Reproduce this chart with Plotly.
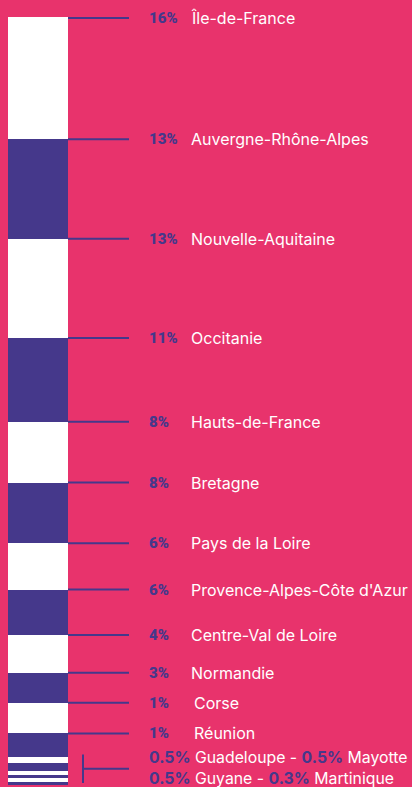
import plotly.graph_objects as go

# ---- data ----
regions = ["Île-de-France", "Auvergne-Rhône-Alpes", "Nouvelle-Aquitaine", "Occitanie",
           "Hauts-de-France", "Bretagne", "Pays de la Loire", "Provence-Alpes-Côte d'Azur",
           "Centre-Val de Loire", "Normandie", "Corse", "Réunion",
           "Guadeloupe", "Mayotte", "Guyane", "Martinique", "", ""]
pct_labels = ["16%", "13%", "13%", "11%", "8%", "8%", "6%", "6%", "4%", "3%", "1%", "1%",
              "0.5%", "0.5%", "0.5%", "0.3%", "", ""]
# segment sizes as drawn in the bar (share of the bar)
bar_share = [15.9, 12.9, 12.9, 10.9, 7.9, 7.9, 6.0, 5.9, 4.9, 3.9, 4.0, 3.0,
             0.9, 1.0, 0.5, 0.4, 0.5, 0.4]

PINK = "#E8336C"
PURPLE = "#45388B"
WHITE = "#FFFFFF"

W, H = 412, 787
BAR_LEFT, BAR_W = 8, 60
TOP_PX, BOT_PX = 17, 785
total = sum(bar_share)
ppu = (BOT_PX - TOP_PX) / total  # px per unit

fig = go.Figure()
starts = []
acc = 0
for i, v in enumerate(bar_share):
    starts.append(acc)
    fig.add_trace(go.Bar(x=[0], y=[v], width=1,
                         marker=dict(color=WHITE if i % 2 == 0 else PURPLE, line=dict(width=0)),
                         showlegend=False, hoverinfo="skip"))
    acc += v

def px_x(px):
    return (px - BAR_LEFT) / BAR_W - 0.5

shapes = []
annotations = []
n_main = 12
for i in range(n_main):
    y = starts[i]
    if i == 0:
        y = starts[i] + 1 / ppu
    shapes.append(dict(type="line", xref="x", yref="y", x0=0.5, x1=px_x(129), y0=y, y1=y,
                       line=dict(color=PURPLE, width=2)))
    annotations.append(dict(x=px_x(146.5), y=y, xref="x", yref="y", text=pct_labels[i],
                            showarrow=False, xanchor="left", yanchor="middle",
                            font=dict(family="Roboto, sans-serif", size=15, weight=900, color=PURPLE)))
    name_x = 192 if regions[i] in ("Corse", "Réunion") else 188.5
    annotations.append(dict(x=px_x(name_x), y=y, xref="x", yref="y", text=regions[i],
                            showarrow=False, xanchor="left", yanchor="middle",
                            font=dict(family="Inter, sans-serif", size=16, color=WHITE)))

# bracket for overseas regions
y_top = starts[12] - 2 / ppu
y_bot = total - 2 / ppu
y_mid = (y_top + y_bot) / 2
shapes.append(dict(type="line", xref="x", yref="y", x0=px_x(83), x1=px_x(83), y0=y_top, y1=y_bot,
                   line=dict(color=PURPLE, width=2)))
shapes.append(dict(type="line", xref="x", yref="y", x0=px_x(83), x1=px_x(129), y0=y_mid, y1=y_mid,
                   line=dict(color=PURPLE, width=2)))

def rich(a, b):
    return ("<span style='color:%s'><b>%s</b></span> %s - <span style='color:%s'><b>%s</b></span> %s"
            % (PURPLE, pct_labels[a], regions[a], PURPLE, pct_labels[b], regions[b]))

for k, (a, b) in enumerate([(12, 13), (14, 15)]):
    annotations.append(dict(x=px_x(146.5), y=y_mid + (-11 if k == 0 else 9.5) / ppu,
                            xref="x", yref="y", text=rich(a, b), showarrow=False,
                            xanchor="left", yanchor="middle",
                            font=dict(family="Inter, sans-serif", size=15.8, color=WHITE)))

fig.update_layout(
    width=W, height=H, margin=dict(l=0, r=0, t=0, b=0),
    paper_bgcolor=PINK, plot_bgcolor=PINK, barmode="stack", bargap=0,
    xaxis=dict(range=[px_x(0), px_x(W)], visible=False, fixedrange=True),
    yaxis=dict(range=[total + (H - BOT_PX) / ppu, -TOP_PX / ppu], visible=False, fixedrange=True),
    shapes=shapes, annotations=annotations, showlegend=False,
)

fig.write_html("out.html")
